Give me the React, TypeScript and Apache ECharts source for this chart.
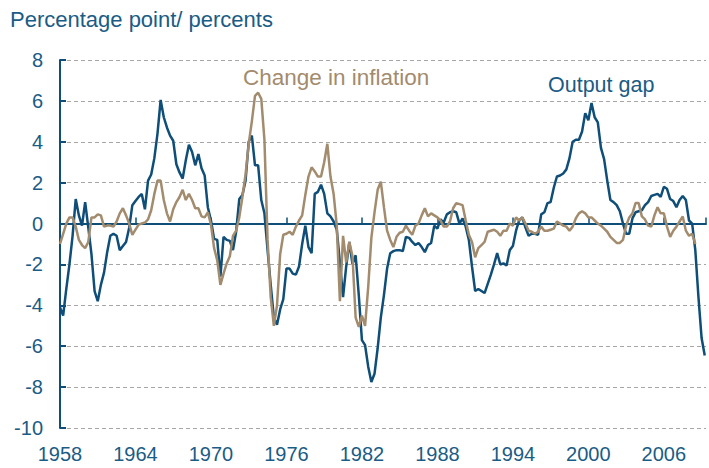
import React, { useEffect, useRef } from "react";
import * as echarts from "echarts";

const START_YEAR = 1958;
const X_TICK_STEP = 6;
const Y_MIN = -10;
const Y_MAX = 8;
const Y_STEP = 2;

const titleText = "Percentage point/ percents";
const seriesNames = ["Output gap", "Change in inflation"];

// Quarterly values starting 1958Q1
const outputGap = [
  -4.1, -4.5, -3.2, -2.0, -0.6, 1.2, 0.4, -0.1, 1.05, -0.2,
  -1.5, -3.3, -3.8, -3.0, -2.4, -1.4, -0.6, -0.5, -0.6, -1.3,
  -1.1, -0.9, -0.2, 0.9, 1.1, 1.3, 1.45, 0.7, 2.1, 2.4,
  3.2, 4.4, 6.05, 5.2, 4.7, 4.3, 4.05, 2.9, 2.5, 2.2,
  3.1, 3.85, 3.5, 2.85, 3.4, 2.7, 2.35, 0.8, 0.15, -0.75,
  -0.8, -2.6, -0.65, -0.8, -0.85, -1.3, -0.4, 1.2, 1.4, 2.1,
  4.0, 4.3, 2.85, 2.85, 1.15, 0.5, -1.3, -3.0, -4.6, -4.95,
  -4.2, -3.7, -2.2, -2.2, -2.45, -2.5, -2.1, -1.0, -0.1, -1.15,
  -1.45, 1.45, 1.55, 1.9, 1.45, 0.5, 0.35, 0.1, -0.3, -1.9,
  -3.6, -2.1, -0.9, -2.0, -1.55, -3.5, -5.7, -5.95, -7.0, -7.75,
  -7.35, -6.1, -4.6, -3.5, -2.2, -1.45, -1.35, -1.3, -1.3, -1.35,
  -0.65, -0.7, -0.9, -1.05, -0.95, -1.15, -1.4, -1.05, -0.95, -0.1,
  -0.25, 0.2, 0.05, 0.45, 0.55, 0.6, 0.55, 0.0, 0.25, -0.15,
  -0.8, -2.1, -3.3, -3.2, -3.3, -3.4, -2.95, -2.5, -2.0, -1.45,
  -2.0, -1.95, -2.05, -1.3, -1.1, -0.35, 0.15, 0.3, -0.2, -0.6,
  -0.5, -0.5, -0.55, 0.45, 0.55, 1.0, 1.05, 1.75, 2.3, 2.35,
  2.45, 2.65, 3.2, 4.0, 4.1, 4.1, 4.5, 5.4, 5.05, 5.9,
  5.2, 4.95, 3.7, 3.15, 2.1, 1.15, 1.05, 0.9, 0.6, 0.0,
  -0.5, -0.5, 0.25, 0.55, 0.6, 0.65, 0.9, 1.05, 1.35, 1.4,
  1.45, 1.3, 1.8, 1.7, 1.2, 1.1, 0.8, 1.15, 1.35, 1.15,
  0.15, 0.0, -1.3, -3.6, -5.6, -6.45,
];

const inflationChange = [
  -1.0, -0.5, 0.0, 0.3, 0.3, -0.15, -0.8, -1.05, -1.2, -0.9,
  0.3, 0.3, 0.45, 0.4, -0.15, -0.1, -0.1, -0.15, 0.1, 0.5,
  0.75, 0.4, 0.0, -0.55, -0.3, -0.05, 0.0, 0.05, 0.2, 0.65,
  1.45, 2.1, 2.1, 1.15, 0.5, 0.1, 0.7, 1.05, 1.3, 1.65,
  1.15, 1.45, 1.15, 0.75, 0.75, 0.35, 0.3, 0.55, -0.05, -1.2,
  -1.8, -3.0, -2.45, -1.95, -1.6, -0.6, -0.35, 0.3, 1.3, 2.4,
  3.9, 5.0, 6.25, 6.4, 6.1, 4.1, -0.8, -3.6, -5.0, -4.0,
  -1.5, -0.55, -0.5, -0.4, -0.55, -0.15, 0.15, 0.4, 1.4, 2.3,
  2.75, 2.55, 2.3, 2.3, 3.0, 3.9, 2.3, 1.45, -0.1, -3.8,
  -0.6, -1.9, -0.9, -1.6, -4.6, -5.05, -4.5, -5.0, -3.1, -0.7,
  0.55, 1.65, 2.05, 0.8, -0.35, -0.8, -1.15, -0.65, -0.45, -0.4,
  -0.1, -0.35, -0.55, -0.1, 0.0, 0.4, 0.75, 0.35, 0.5, 0.4,
  0.3, 0.15, -0.15, -0.15, 0.1, 0.75, 1.0, 0.95, 0.9, 0.15,
  -0.55, -0.9, -1.65, -1.2, -1.05, -0.9, -0.4, -0.35, -0.3, -0.4,
  -0.6, -0.35, -0.35, 0.0, -0.1, 0.3, 0.15, 0.3, 0.0, -0.35,
  -0.4, -0.5, -0.4, -0.15, -0.35, -0.35, -0.3, -0.25, 0.1, 0.0,
  -0.1, -0.15, -0.35, -0.15, 0.25, 0.5, 0.6, 0.5, 0.3, 0.3,
  0.15, 0.0, -0.1, -0.25, -0.4, -0.65, -0.8, -0.95, -0.95, -0.8,
  -0.1, 0.3, 0.5, 1.0, 1.0, 0.35, 0.2, -0.1, -0.15, 0.4,
  0.8, 0.5, 0.5, -0.15, -0.65, -0.35, -0.15, 0.1, 0.35, -0.35,
  -0.6, -0.5, -1.0,
];

const BLUE = "#0e4e78";
const TEXT_BLUE = "#1a5c85";
const TAN = "#a38b6e";
const FONT = "'Liberation Sans', Arial, sans-serif";

export default function App() {
  const ref = useRef<HTMLDivElement>(null);

  useEffect(() => {
    if (!ref.current) return;
    const chart = echarts.init(ref.current, undefined, { renderer: "svg" });
    const toPairs = (arr: number[]) => arr.map((v, i) => [i / 4, v]);
    const xMax = 51.35;
    const fmt = (v: number) =>
      Math.abs(v % X_TICK_STEP) < 1e-6 ? String(START_YEAR + Math.round(v)) : "";

    chart.setOption({
      animation: false,
      grid: { left: 60, right: 0, top: 60, bottom: 40, containLabel: false },
      xAxis: [
        {
          type: "value",
          min: 0,
          max: xMax,
          interval: X_TICK_STEP,
          position: "bottom",
          axisLine: { show: false, onZero: false },
          axisTick: { show: false },
          splitLine: { show: false },
          axisLabel: {
            color: TEXT_BLUE,
            fontSize: 20,
            fontFamily: FONT,
            margin: 16,
            formatter: fmt,
          },
        },
        {
          type: "value",
          min: 0,
          max: xMax,
          interval: X_TICK_STEP,
          position: "bottom",
          axisLine: { show: true, onZero: true, lineStyle: { color: BLUE, width: 2 } },
          axisTick: { show: true, inside: true, length: 6, lineStyle: { color: BLUE, width: 1.5 } },
          splitLine: { show: false },
          axisLabel: { show: false },
        },
      ],
      yAxis: {
        type: "value",
        min: Y_MIN,
        max: Y_MAX,
        interval: Y_STEP,
        axisLine: { show: true, onZero: false, lineStyle: { color: BLUE, width: 2 } },
        axisTick: { show: true, inside: true, length: 6, lineStyle: { color: BLUE, width: 2 } },
        axisLabel: { color: TEXT_BLUE, fontSize: 20, fontFamily: FONT, margin: 17 },
        splitLine: { show: true, lineStyle: { color: "#a6a6a6", type: [4, 3], width: 1 } },
      },
      series: [
        {
          name: seriesNames[0],
          type: "line",
          xAxisIndex: 0,
          data: toPairs(outputGap),
          showSymbol: false,
          lineStyle: { color: BLUE, width: 2.5 },
          z: 3,
        },
        {
          name: seriesNames[1],
          type: "line",
          xAxisIndex: 0,
          data: toPairs(inflationChange),
          showSymbol: false,
          lineStyle: { color: TAN, width: 2.5 },
          z: 4,
        },
      ],
      graphic: [
        {
          type: "text",
          x: 10,
          y: 19,
          style: { text: titleText, fill: TEXT_BLUE, fontSize: 22, fontFamily: FONT, verticalAlign: "middle", align: "left" },
        },
        {
          type: "text",
          x: 243,
          y: 77,
          style: { text: seriesNames[1], fill: TAN, fontSize: 22.5, fontFamily: FONT, verticalAlign: "middle", align: "left" },
        },
        {
          type: "text",
          x: 548,
          y: 85,
          style: { text: seriesNames[0], fill: TEXT_BLUE, fontSize: 21.5, fontFamily: FONT, verticalAlign: "middle", align: "left" },
        },
      ],
    });
    return () => chart.dispose();
  }, []);

  return (
    <div
      ref={ref}
      style={{ position: "absolute", left: 0, top: 0, width: 709, height: 468 }}
    />
  );
}
